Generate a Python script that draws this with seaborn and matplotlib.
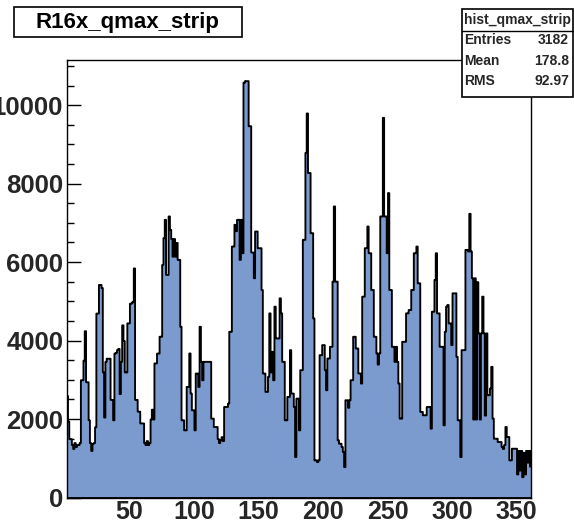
import numpy as np
import pandas as pd
import matplotlib
matplotlib.use("Agg")
import matplotlib.pyplot as plt
from matplotlib.patches import Rectangle
from matplotlib.lines import Line2D
from matplotlib.ticker import MultipleLocator, FixedLocator
import seaborn as sns

# ---- data: one value per strip (bin k covers [k, k+1]) ----
strip_counts = [
    2600, 2600, 1950, 1500, 1500, 1350, 1250, 1400, 1300, 1350,   # 0-9
    1350, 1400, 3000, 3000, 3500, 4250, 2950, 2950, 1980, 1400,   # 10-19
    1200, 1380, 1400, 1800, 4700, 4700, 5430, 5430, 5350, 3200,   # 20-29
    2050, 3470, 3550, 3550, 3550, 2500, 2500, 1980, 3680, 3700,   # 30-39
    3770, 3800, 2650, 3470, 4400, 4000, 3200, 3200, 4450, 4450,   # 40-49
    4950, 4960, 5000, 5850, 2500, 2500, 2200, 2200, 1900, 1900,   # 50-59
    1900, 1400, 1350, 1450, 1350, 1400, 2000, 2250, 2000, 3430,   # 60-69
    3430, 3680, 3680, 4110, 4110, 5940, 6620, 7090, 5685, 5685,   # 70-79
    7175, 6834, 6600, 6150, 6600, 6150, 6500, 6068, 6068, 4364,   # 80-89
    1980, 1980, 1724, 1724, 2831, 2831, 3683, 2661, 2235, 2235,   # 90-99
    1724, 3172, 3172, 2831, 4364, 3470, 3000, 3470, 3470, 3470,   # 100-109
    3470, 3470, 3470, 2022, 2022, 1809, 1809, 1809, 1500, 1400,   # 110-119
    1470, 1550, 1450, 2320, 2320, 2320, 2405, 4236, 4236, 6408,   # 120-129
    6408, 6962, 6800, 7090, 7090, 6068, 7090, 6238, 10582, 10620, # 130-139
    10624, 10624, 9475, 9475, 6255, 6255, 5600, 6792, 6792, 6366, # 140-149
    6366, 6366, 5301, 3172, 3172, 2704, 2704, 3087, 4705, 3200,   # 150-159
    3726, 3000, 4876, 4066, 4066, 4066, 5088, 4705, 3470, 3470,   # 160-169
    1980, 1980, 2576, 2576, 3768, 2661, 2661, 2320, 1043, 2533,   # 170-179
    2533, 1724, 3257, 3257, 6579, 6579, 8793, 9800, 8282, 8282,   # 180-189
    6749, 6749, 4577, 958, 958, 915, 958, 3640, 3640, 3896,       # 190-199
    3896, 3257, 2746, 3555, 3555, 3853, 3853, 5514, 7430, 5514,   # 200-209
    5514, 1469, 1384, 1384, 1300, 1170, 787, 2491, 2491, 2300,    # 210-219
    2491, 3002, 3002, 4109, 4109, 3810, 3810, 3172, 3172, 2917,   # 220-229
    5131, 5131, 6366, 6366, 6919, 6238, 6238, 5301, 5301, 4109,   # 230-239
    4109, 3683, 3400, 3683, 7175, 7175, 9688, 7175, 7175, 6238,   # 240-249
    7771, 5301, 5301, 3853, 3853, 3470, 3853, 3470, 2917, 2022,   # 250-259
    2022, 3981, 3981, 3981, 4705, 4705, 4790, 4790, 5301, 5301,   # 260-269
    6238, 6238, 6408, 5471, 5471, 2193, 2193, 2108, 2108, 2108,   # 270-279
    2320, 2320, 2320, 1767, 4747, 4747, 5556, 6238, 4705, 4705,   # 280-289
    3853, 3853, 3853, 1852, 4236, 4876, 4918, 4449, 4449, 3896,   # 290-299
    5216, 5216, 5216, 3598, 1980, 1980, 1043, 3768, 3768, 3768,   # 300-309
    6323, 6323, 6281, 7243, 6281, 5600, 2000, 5600, 2000, 5500,   # 310-319
    4194, 2000, 4194, 5131, 4194, 2100, 4194, 2619, 2619, 2789,   # 320-329
    3342, 2022, 1511, 1511, 1511, 1426, 1426, 1426, 1300, 1250,   # 330-339
    1350, 1809, 1554, 1554, 958, 958, 1256, 1256, 1256, 1256,     # 340-349
    600, 1200, 700, 1200, 530, 1150, 600, 1200, 900, 1200,        # 350-359
    800, 1200,                                                    # 360-361
]
strips = list(range(len(strip_counts)))
bin_edges = list(range(len(strip_counts) + 1))

title_text = "R16x_qmax_strip"
stats_name = "hist_qmax_strip"
stats_labels = ["Entries", "Mean", "RMS"]
stats_values = ["3182", "178.8", "92.97"]
x_major = [50, 100, 150, 200, 250, 300, 350]
y_major = [0, 2000, 4000, 6000, 8000, 10000]

df = pd.DataFrame({"strip": [s + 0.5 for s in strips], "count": strip_counts})

sns.set_theme(style="white")
plt.rcParams["font.family"] = ["Liberation Sans", "DejaVu Sans"]

W, H = 574, 522
fig = plt.figure(figsize=(W / 100, H / 100), dpi=100)
ax_l, ax_r, ax_t, ax_b = 66.7, 531.0, 60.0, 497.5
ax = fig.add_axes([ax_l / W, 1 - ax_b / H, (ax_r - ax_l) / W, (ax_b - ax_t) / H])

sns.histplot(data=df, x="strip", weights="count", bins=bin_edges,
             element="step", fill=True, color="#7b9bcf", alpha=1.0,
             edgecolor="black", linewidth=1.35, ax=ax, legend=False)

ax.set_xlim(1.4, 361.2)
ax.set_ylim(0, 11150)
ax.set_xlabel("")
ax.set_ylabel("")

ax.xaxis.set_major_locator(FixedLocator(x_major))
ax.xaxis.set_minor_locator(MultipleLocator(10))
ax.yaxis.set_major_locator(FixedLocator(y_major))
ax.yaxis.set_minor_locator(MultipleLocator(500))
ax.set_xticklabels([str(v) for v in x_major])
ax.set_yticklabels([str(v) for v in y_major])
ax.tick_params(which="both", direction="in", top=False, right=False,
               bottom=True, left=True, color="black", width=1.0)
ax.tick_params(which="major", length=10)
ax.tick_params(which="minor", length=5)
ax.tick_params(axis="x", which="major", pad=1.5, labelsize=18)
ax.tick_params(axis="y", which="major", pad=2.5, labelsize=18.5)
for lab in ax.get_xticklabels() + ax.get_yticklabels():
    lab.set_fontweight("bold")
for sp in ax.spines.values():
    sp.set_visible(True)
    sp.set_color("black")
    sp.set_linewidth(1.0)

def fx(px):
    return px / W

def fy(py):
    return 1 - py / H

# title box
fig.add_artist(Rectangle((fx(14), fy(37)), (242 - 14) / W, 30 / H,
                         transform=fig.transFigure, facecolor="white",
                         edgecolor="black", linewidth=1.2))
fig.text(fx(127), fy(22.5), title_text, ha="center", va="center",
         fontsize=16, fontweight="bold", color="black")

# stats box
sx0, sx1, sy0, sy1 = 461.7, 573.0, 9.0, 97.0
fig.add_artist(Rectangle((fx(sx0), fy(sy1)), (sx1 - sx0) / W, (sy1 - sy0) / H,
                         transform=fig.transFigure, facecolor="white",
                         edgecolor="black", linewidth=1.2, zorder=5))
fig.add_artist(Line2D([fx(sx0), fx(sx1)], [fy(31), fy(31)],
                      transform=fig.transFigure, color="black", linewidth=1.0, zorder=6))
fig.text(fx((sx0 + sx1) / 2), fy(20), stats_name, ha="center", va="center",
         fontsize=10, fontweight="bold", zorder=7)
for i, (lab, val) in enumerate(zip(stats_labels, stats_values)):
    yy = fy(40.5 + i * 20.3)
    fig.text(fx(464.5), yy, lab, ha="left", va="center", fontsize=10,
             fontweight="bold", zorder=7)
    fig.text(fx(569), yy, val, ha="right", va="center", fontsize=10,
             fontweight="bold", zorder=7)

fig.savefig("out.png", dpi=100)
